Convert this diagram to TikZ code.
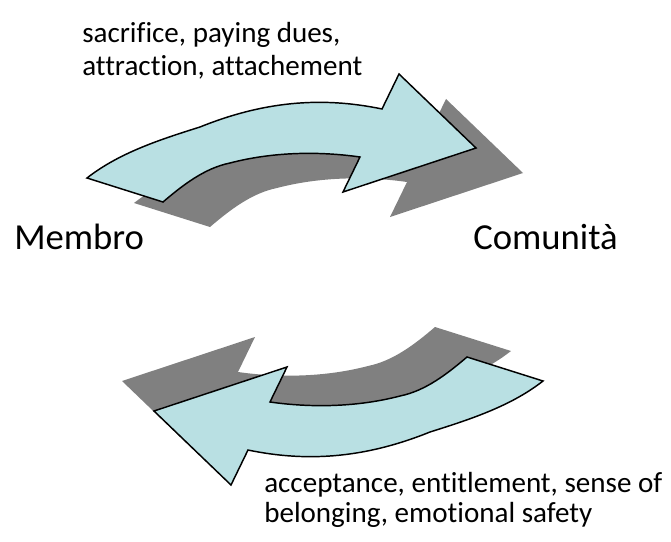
\documentclass[tikz,border=0pt]{standalone}
\usepackage{fontspec}
\setmainfont{Carlito}[Ligatures=NoCommon]
\definecolor{arrowblue}{HTML}{B9E0E3}
\definecolor{shadowgray}{HTML}{808080}
\tikzset{
  carrow/.pic={
    \path[pic actions]
      (87,178) .. controls (119.4,152.6) and (161,139.3) .. (200,127)
      .. controls (262,102) and (320,96) .. (382,109)
      -- (399,74) -- (476,148) -- (343,192) -- (360,157)
      .. controls (318,151) and (272,152) .. (230,163)
      .. controls (204.5,168.2) and (182.8,185.1) .. (163,202)
      -- cycle;
  },
  shadowfill/.style={fill=shadowgray},
  arrowfill/.style={fill=arrowblue, draw=black, line width=1.1pt, line join=miter},
  smalltext/.style={anchor=base west, inner sep=0pt, font=\fontsize{21.8}{26}\selectfont},
  bigtext/.style={anchor=base west, inner sep=0pt, font=\fontsize{27.5}{32}\selectfont}
}
\begin{document}
\begin{tikzpicture}[x=0.75pt,y=-0.75pt]
\useasboundingbox (0,0) rectangle (671,542);
% top arrow (member -> community)
\pic[shadowfill] at (47,25) {carrow};
\pic[arrowfill] at (0,0) {carrow};
% bottom arrow (community -> member)
\pic[shadowfill, rotate=180] at (598,529) {carrow};
\pic[arrowfill, rotate=180] at (630,559) {carrow};
% labels
\node[smalltext] (top1) at (82,43) {sacrifice, paying dues,};
\node[smalltext] (top2) at (82,75) {attraction, attachement};
\node[bigtext] (membro) at (14,249) {Membro};
\node[bigtext] (comunita) at (473,249) {Comunità};
\node[smalltext] (bot1) at (264,492) {acceptance, entitlement, sense of};
\node[smalltext] (bot2) at (264,522) {belonging, emotional safety};
\end{tikzpicture}
\end{document}
